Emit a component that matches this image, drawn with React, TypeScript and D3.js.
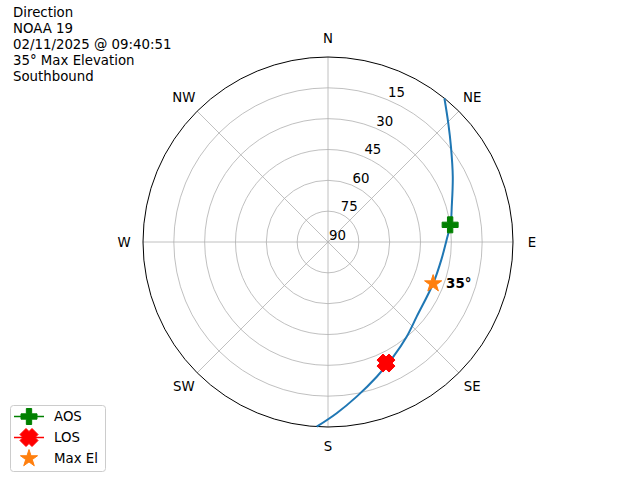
import React from "react";
import * as d3 from "d3";

const titleLines = ["Direction", "NOAA 19", "02/11/2025 @ 09:40:51", "35° Max Elevation", "Southbound"];
const compassLabels = ["N", "NE", "E", "SE", "S", "SW", "W", "NW"];
const compassAngles = [0, 45, 90, 135, 180, 225, 270, 315];
const elevationTicks = [90, 75, 60, 45, 30, 15];
const trackAz = [39.0, 45.4, 52.2, 62.4, 74.1, 81.3, 89.0, 98.2, 111.4, 130.1, 140.3, 150.3, 160.1, 169.5, 177.1, 183.5];
const trackEl = [0, 7.8, 14.3, 21.5, 27.4, 29.6, 32.3, 34.1, 35.0, 33.6, 30.1, 25.8, 20.3, 13.5, 6.6, 0];
const aosPoint = { az: 82.0, el: 30.0 };
const losPoint = { az: 154.4, el: 24.7 };
const maxPoint = { az: 111.6, el: 35.0, label: "35°" };
const legendLabels = ["AOS", "LOS", "Max El"];

const FONT = "DejaVu Sans, sans-serif";
const cx = 328, cy = 242, R = 185;
const rScale = d3.scaleLinear().domain([90, 0]).range([0, R]);
const toXY = (az: number, el: number): [number, number] => {
  const a = (az * Math.PI) / 180;
  const r = rScale(el);
  return [cx + r * Math.sin(a), cy - r * Math.cos(a)];
};

const plusPath = (s: number) => {
  const pts = [[-1, -3], [1, -3], [1, -1], [3, -1], [3, 1], [1, 1], [1, 3], [-1, 3], [-1, 1], [-3, 1], [-3, -1], [-1, -1]];
  return "M" + pts.map(([x, y]) => `${(x / 6) * s},${(y / 6) * s}`).join("L") + "Z";
};
const xPath = (s: number) => {
  const pts = [[0, -2], [-1, -3], [-3, -1], [-2, 0], [-3, 1], [-1, 3], [0, 2], [1, 3], [3, 1], [2, 0], [3, -1], [1, -3]];
  return "M" + pts.map(([x, y]) => `${(x / 6) * s},${(y / 6) * s}`).join("L") + "Z";
};
const starPath = (s: number) => {
  const pts: string[] = [];
  for (let i = 0; i < 10; i++) {
    const r = i % 2 === 0 ? s / 2 : (s / 2) * 0.381966;
    const a = (i * Math.PI) / 5;
    pts.push(`${r * Math.sin(a)},${-r * Math.cos(a)}`);
  }
  return "M" + pts.join("L") + "Z";
};

const markers = [
  { d: plusPath(16), color: "green", line: true },
  { d: xPath(18), color: "red", line: true },
  { d: starPath(18), color: "#ff7f0e", line: false },
];

export default function App() {
  const line = d3
    .line<number>()
    .x((_, i) => toXY(trackAz[i], trackEl[i])[0])
    .y((_, i) => toXY(trackAz[i], trackEl[i])[1])
    .curve(d3.curveCatmullRom);
  const aos = toXY(aosPoint.az, aosPoint.el);
  const los = toXY(losPoint.az, losPoint.el);
  const mx = toXY(maxPoint.az, maxPoint.el);
  const tickAngle = (22.5 * Math.PI) / 180;

  return (
    <svg width={640} height={480} style={{ position: "absolute", left: 0, top: 0, background: "#fff" }} fontFamily={FONT}>
      <rect width={640} height={480} fill="#fff" />
      {/* grid circles */}
      {elevationTicks.filter((e) => e < 90).map((e) => (
        <circle key={e} cx={cx} cy={cy} r={rScale(e)} fill="none" stroke="#b0b0b0" strokeWidth={0.8} />
      ))}
      {compassAngles.map((a) => {
        const [x, y] = toXY(a, 0);
        return <line key={a} x1={cx} y1={cy} x2={x} y2={y} stroke="#b0b0b0" strokeWidth={0.8} />;
      })}
      <circle cx={cx} cy={cy} r={R} fill="none" stroke="#000" strokeWidth={1} />
      {compassLabels.map((l, i) => {
        const a = (compassAngles[i] * Math.PI) / 180;
        const r = R + 19;
        return (
          <text key={l} x={cx + r * Math.sin(a)} y={cy - r * Math.cos(a)} textAnchor="middle" dominantBaseline="central" fontSize={13.33}>
            {l}
          </text>
        );
      })}
      {elevationTicks.map((e) => {
        const r = rScale(e);
        const x = cx + r * Math.sin(tickAngle);
        const y = cy - r * Math.cos(tickAngle);
        return (
          <text key={e} x={x + 1} y={y - 2.5} fontSize={13.33} textAnchor="start">
            {e}
          </text>
        );
      })}
      <path d={line(trackAz) || ""} fill="none" stroke="#1f77b4" strokeWidth={2} />
      <path d={markers[0].d} transform={`translate(${aos[0]},${aos[1]})`} fill="green" stroke="green" strokeWidth={1} strokeLinejoin="round" />
      <path d={markers[1].d} transform={`translate(${los[0]},${los[1]})`} fill="red" stroke="red" strokeWidth={1} strokeLinejoin="round" />
      <path d={markers[2].d} transform={`translate(${mx[0]},${mx[1]})`} fill="#ff7f0e" stroke="#ff7f0e" strokeWidth={1} strokeLinejoin="round" />
      <text x={mx[0] + 13} y={mx[1]} dominantBaseline="central" fontSize={13.33} fontWeight="bold">
        {maxPoint.label}
      </text>
      {titleLines.map((t, i) => (
        <text key={i} x={13} y={16.7 + i * 16} fontSize={13.33}>
          {t}
        </text>
      ))}
      <g>
        <rect x={10.5} y={405.5} width={95} height={66} rx={3} fill="#fff" fillOpacity={0.8} stroke="#cccccc" strokeWidth={1} />
        {legendLabels.map((l, i) => {
          const y = 416.5 + i * 21;
          const m = markers[i];
          return (
            <g key={l}>
              {m.line && <line x1={14} y1={y} x2={44} y2={y} stroke={m.color} strokeWidth={1.5} />}
              <path d={m.d} transform={`translate(29,${y})`} fill={m.color} stroke={m.color} strokeWidth={1} strokeLinejoin="round" />
              <text x={54} y={y} dominantBaseline="central" fontSize={13.33}>
                {l}
              </text>
            </g>
          );
        })}
      </g>
    </svg>
  );
}
